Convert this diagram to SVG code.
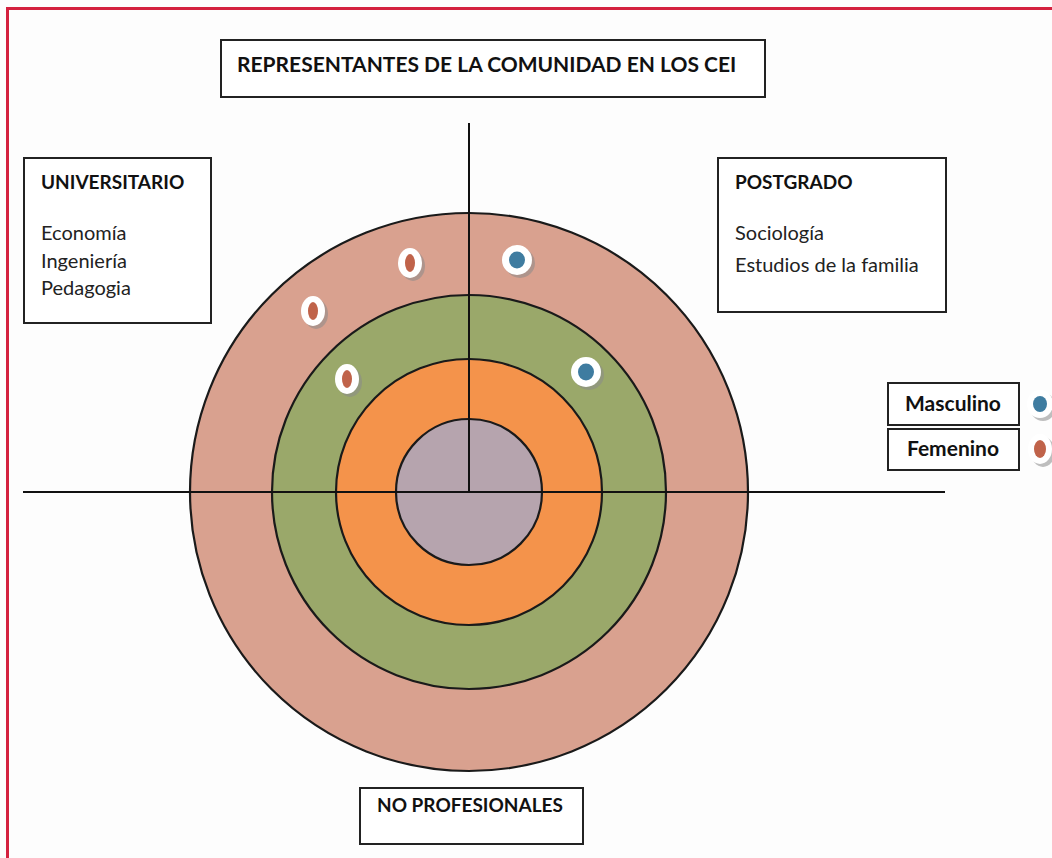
<svg xmlns="http://www.w3.org/2000/svg" width="1052" height="858" viewBox="0 0 1052 858">
<defs>
<style>
.box{fill:#fff;stroke:#222;stroke-width:2}
.b{font-family:Lato,"Liberation Sans",sans-serif;font-weight:bold;font-size:19px;fill:#111}
.r{font-family:Lato,"Liberation Sans",sans-serif;font-size:20px;fill:#222}
.ring{stroke:#1a1a1a;stroke-width:2.2}
.axis{stroke:#111;stroke-width:2;fill:none}
.shadow{fill:#8a8a8a;opacity:0.55}
.ow{fill:#fff}
.fem{fill:#c0634a}
.mas{fill:#3f7ca0}
</style>
</defs>
<rect x="0" y="0" width="1052" height="858" fill="#fdfdfd"/>
<path d="M7.5 858 V8.5 H1052" fill="none" stroke="#d4213f" stroke-width="3"/>

<g id="circles">
<circle cx="469" cy="492" r="279" fill="#d9a18f" class="ring"/>
<circle cx="469" cy="492" r="197" fill="#9aa86a" class="ring"/>
<circle cx="469" cy="492" r="133" fill="#f4934b" class="ring"/>
<circle cx="469" cy="492" r="73" fill="#b6a4ae" class="ring"/>
</g>

<g id="connectors">
<line x1="469" y1="123" x2="469" y2="492" class="axis"/>
<line x1="23" y1="492" x2="945" y2="492" class="axis"/>
</g>

<g id="markers">
<g id="m1"><ellipse cx="413" cy="266" rx="12" ry="15" class="shadow"/><ellipse cx="410" cy="263" rx="12" ry="15" class="ow"/><ellipse cx="410" cy="263" rx="5" ry="9" class="fem"/></g>
<g id="m2"><ellipse cx="316" cy="314" rx="12" ry="15" class="shadow"/><ellipse cx="313" cy="311" rx="12" ry="15" class="ow"/><ellipse cx="313" cy="311" rx="5" ry="9" class="fem"/></g>
<g id="m3"><ellipse cx="350" cy="382" rx="12" ry="15" class="shadow"/><ellipse cx="347" cy="379" rx="12" ry="15" class="ow"/><ellipse cx="347" cy="379" rx="5" ry="9" class="fem"/></g>
<g id="m4"><ellipse cx="520" cy="263" rx="15" ry="15" class="shadow"/><ellipse cx="517" cy="260" rx="15" ry="15" class="ow"/><ellipse cx="517" cy="260" rx="8" ry="8.5" class="mas"/></g>
<g id="m5"><ellipse cx="589" cy="375" rx="15" ry="15" class="shadow"/><ellipse cx="586" cy="372" rx="15" ry="15" class="ow"/><ellipse cx="586" cy="372" rx="8" ry="8.5" class="mas"/></g>
</g>

<g id="title">
<rect x="221" y="40" width="544" height="57" class="box"/>
<text x="237" y="72" class="b" style="font-size:21px">REPRESENTANTES DE LA COMUNIDAD EN LOS CEI</text>
</g>

<g id="universitario">
<rect x="24" y="158" width="187" height="165" class="box"/>
<text x="41" y="189" class="b">UNIVERSITARIO</text>
<text x="41" y="240" class="r">Economía</text>
<text x="41" y="268" class="r">Ingeniería</text>
<text x="41" y="295" class="r">Pedagogia</text>
</g>

<g id="postgrado">
<rect x="718" y="158" width="228" height="154" class="box"/>
<text x="735" y="189" class="b">POSTGRADO</text>
<text x="735" y="240" class="r">Sociología</text>
<text x="735" y="272" class="r">Estudios de la familia</text>
</g>

<g id="legend-masculino">
<rect x="888" y="383" width="131" height="42" class="box"/>
<text x="953" y="411" class="b" text-anchor="middle" style="font-size:21px">Masculino</text>
<ellipse cx="1043" cy="407" rx="13" ry="14" class="shadow"/>
<ellipse cx="1040" cy="404" rx="13" ry="14" class="ow"/>
<ellipse cx="1040" cy="404" rx="7" ry="8" class="mas"/>
</g>

<g id="legend-femenino">
<rect x="888" y="429" width="131" height="41" class="box"/>
<text x="953" y="456" class="b" text-anchor="middle" style="font-size:21px">Femenino</text>
<ellipse cx="1043" cy="452" rx="12" ry="15" class="shadow"/>
<ellipse cx="1040" cy="449" rx="12" ry="15" class="ow"/>
<ellipse cx="1040" cy="449" rx="6" ry="9" class="fem"/>
</g>

<g id="no-profesionales">
<rect x="360" y="788" width="223" height="56" class="box"/>
<text x="377" y="812" class="b">NO PROFESIONALES</text>
</g>
</svg>
